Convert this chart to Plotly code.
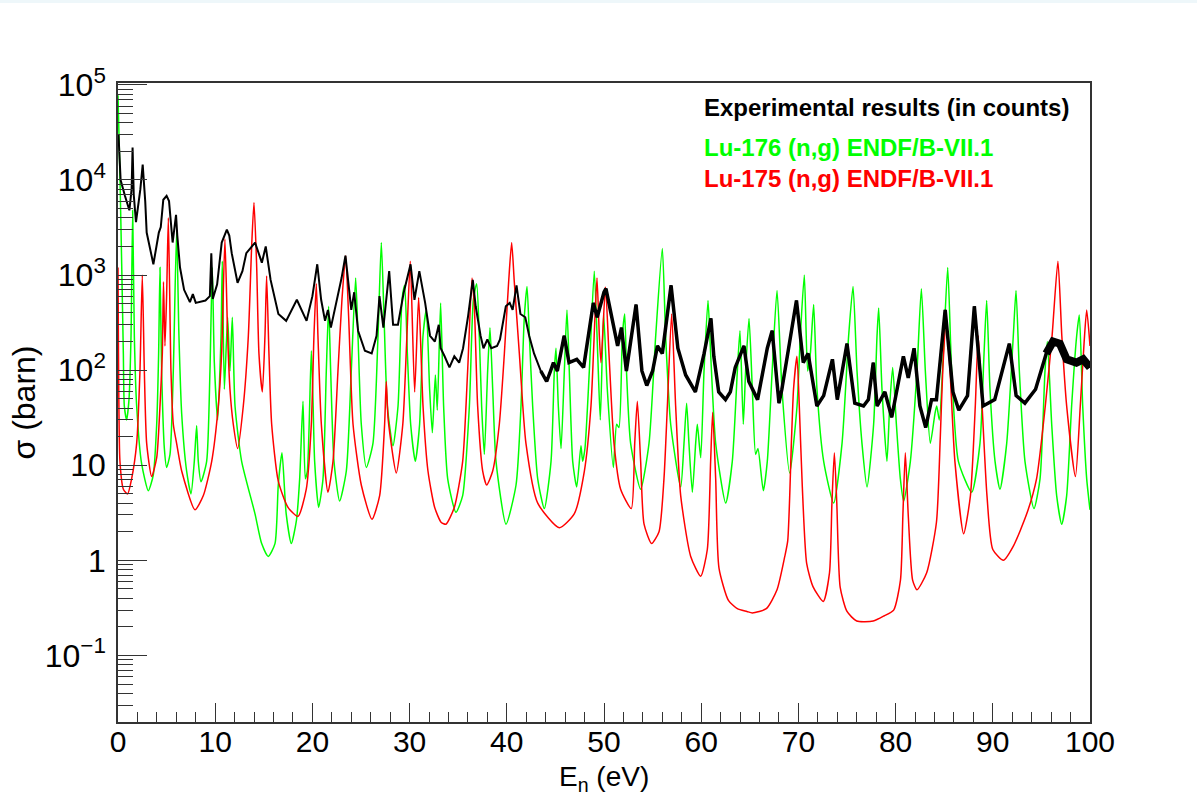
import plotly.graph_objects as go

# ---------------- data ----------------
black_E = [0.05, 0.27, 0.72, 1.17, 1.4, 1.5, 1.62, 1.85, 2.3, 2.54, 2.8, 2.95, 3.64, 4.2, 4.4, 4.66, 5.0, 5.25, 5.62, 5.97,
           6.1, 6.38, 6.8, 7.4, 7.7, 8.0, 9.0, 9.45, 9.6, 9.75, 10.2, 10.67, 11.2, 11.45, 11.7, 12.3, 12.8, 13.2, 14.1, 14.8,
           15.2, 15.7, 16.5, 17.3, 18.4, 19.4, 20.0, 20.5, 20.9, 21.3, 21.6, 21.9, 23.0, 23.4, 24.0, 24.3, 24.7, 25.4, 26.1, 26.6,
           26.9, 27.3, 27.9, 28.3, 28.8, 29.4, 30.1, 30.5, 31.0, 31.6, 32.1, 32.6, 33.0, 33.2, 33.6, 34.1, 34.6, 35.1, 35.5, 36.0,
           36.5, 36.8, 37.3, 37.6, 38.0, 38.4, 39.0, 39.3, 39.9, 40.3, 40.6, 41.0, 41.4, 41.9, 42.3, 42.8, 43.5, 44.1, 44.5, 44.8,
           45.2, 45.9, 46.4, 47.2, 47.9, 48.5, 48.9, 49.3, 50.0, 50.2, 51.0, 51.4, 51.8, 52.3, 53.3, 53.9, 54.4, 55.0, 55.5, 56.0,
           56.9, 57.6, 58.4, 59.4, 60.3, 61.0, 61.3, 61.8, 62.5, 63.0, 63.5, 64.4, 64.9, 65.8, 66.8, 67.3, 68.0, 68.3, 69.8, 70.5,
           71.0, 71.9, 72.6, 73.5, 74.0, 75.0, 75.8, 76.7, 77.2, 77.7, 78.1, 78.9, 79.6, 80.8, 81.3, 81.9, 82.5, 83.1, 83.7, 84.2,
           85.1, 85.9, 86.5, 87.4, 88.1, 89.0, 90.2, 91.7, 92.4, 93.3, 94.4, 95.5, 96.2, 96.9, 97.6, 98.6, 99.3, 100.0]
black_sigma = [3.0e4, 1.0e4, 6.8e3, 4.8e3, 8.0e3, 2.2e4, 7.0e3, 3.6e3, 8.0e3, 1.45e4, 6.0e3, 2.8e3, 1.3e3, 2.8e3, 3.2e3, 6.2e3, 6.8e3, 6.0e3, 2.2e3, 4.3e3,
               2.6e3, 1.2e3, 700, 520, 630, 510, 540, 600, 1.7e3, 560, 800, 2.2e3, 3.0e3, 2.6e3, 1.7e3, 830, 1.1e3, 1.7e3, 2.2e3, 1.35e3,
               2.0e3, 890, 390, 330, 550, 330, 600, 1.3e3, 550, 330, 430, 280, 930, 1.6e3, 430, 660, 260, 160, 150, 230,
               600, 280, 1.1e3, 300, 300, 660, 1.3e3, 550, 1.1e3, 510, 230, 200, 300, 170, 140, 107, 140, 120, 170, 360,
               890, 470, 230, 170, 210, 170, 180, 210, 470, 510, 430, 780, 390, 360, 230, 150, 98, 76, 98, 120,
               98, 230, 120, 130, 107, 260, 510, 360, 660, 720, 280, 180, 280, 98, 490, 98, 69, 98, 180, 150,
               780, 170, 89, 59, 150, 350, 140, 59, 49, 59, 107, 180, 76, 49, 170, 260, 45, 63, 540, 120,
               150, 42, 54, 130, 49, 190, 45, 42, 49, 120, 42, 59, 32, 140, 83, 170, 42, 25, 49, 49,
               430, 59, 38, 54, 470, 42, 49, 190, 54, 45, 63, 150, 200, 190, 130, 120, 130, 107]

green_E = [0.0, 0.1, 0.2, 0.38, 0.55, 0.65, 0.89, 1.13, 1.34, 1.51, 1.68, 1.92, 2.43, 3.12, 3.63, 3.98, 4.18, 4.32, 4.49, 4.77,
           5.0, 5.35, 5.69, 6.03, 6.27, 6.55, 7.06, 7.51, 7.85, 8.09, 8.26, 8.54, 9.12, 9.46, 9.70, 9.91, 10.25, 10.6, 10.73, 10.94,
           11.28, 11.52, 11.76, 12.04, 12.72, 14.09, 14.78, 15.46, 16.15, 16.49, 16.87, 17.3, 17.83, 18.35, 18.69, 19.03, 19.27, 19.48, 19.89, 20.06,
           20.23, 20.64, 21.09, 21.43, 21.67, 21.88, 22.22, 22.8, 23.49, 24.0, 24.45, 24.69, 25.03, 25.55, 26.23, 26.75, 27.09, 27.37, 27.71, 28.29,
           28.81, 29.22, 29.49, 29.77, 30.11, 30.59, 31.03, 31.38, 31.72, 32.06, 32.34, 32.65, 32.85, 33.19, 33.5, 33.92, 34.77, 35.46, 36.15, 36.56,
           36.9, 37.17, 37.41, 37.69, 38.03, 38.27, 38.55, 38.89, 39.92, 40.95, 41.46, 41.8, 42.08, 42.32, 42.66, 43.18, 43.86, 44.55, 44.89, 45.06,
           45.3, 45.58, 45.92, 46.19, 46.43, 46.78, 47.19, 47.63, 47.8, 48.04, 48.49, 49.0, 49.35, 49.62, 49.96, 50.34, 50.96, 51.3, 51.54, 51.89,
           52.13, 52.33, 52.74, 53.77, 54.63, 55.32, 56.0, 56.34, 56.86, 57.89, 58.23, 58.5, 58.74, 59.09, 59.43, 59.6, 59.95, 60.29, 60.7, 60.97,
           61.49, 62.52, 63.2, 63.72, 63.99, 64.33, 64.57, 64.92, 65.26, 65.6, 65.84, 66.39, 66.8, 67.3, 67.8, 68.31, 69.1, 69.86, 70.2, 70.61,
           70.95, 71.23, 71.57, 71.91, 72.6, 73.63, 74.49, 75.17, 75.62, 76.03, 76.54, 77.06, 77.74, 78.09, 78.26, 78.6, 79.11, 79.39, 79.7, 80.08,
           80.49, 80.83, 81.52, 82.2, 82.65, 83.06, 83.57, 84.05, 84.23, 84.5, 84.91, 85.36, 85.77, 86.46, 87.83, 88.68, 89.1, 89.37, 89.71, 90.23,
           90.74, 91.43, 92.11, 92.39, 92.73, 93.31, 94.24, 94.86, 95.37, 95.61, 96.06, 96.57, 97.09, 97.6, 98.11, 98.63, 98.9, 99.25, 99.66, 100.0]
green_sigma = [7.8e4, 3.0e4, 1.1e4, 1.3e3, 150, 42, 30, 49, 230, 4.8e3, 230, 42, 10.4, 5.4, 7.9, 27, 150, 1.2e3, 98, 15,
               9.5, 13, 98, 2.9e3, 230, 35, 8.7, 5.0, 11, 26, 11, 6.7, 11, 98, 1.2e3, 120, 30, 230, 1.4e3, 63,
               360, 98, 360, 42, 11, 3.1, 1.5, 1.1, 1.5, 6.2, 13.5, 3.1, 1.5, 2.6, 7.2, 47, 7.2, 8.7, 160, 49,
               11, 3.6, 7.2, 98, 470, 98, 11, 4.2, 8.7, 98, 930, 230, 27, 9.5, 17, 230, 2.2e3, 360, 42, 16,
               42, 550, 780, 150, 27, 11, 27, 230, 430, 63, 22, 89, 38, 510, 42, 7.2, 3.2, 4.8, 42, 550,
               810, 230, 42, 13, 98, 280, 63, 11, 2.4, 6.2, 42, 360, 760, 230, 42, 7.2, 3.5, 11, 98, 170,
               42, 15, 98, 430, 98, 11, 5.9, 16, 11, 15, 98, 1.1e3, 150, 30, 390, 63, 9.5, 27, 25, 230,
               390, 89, 17, 5.6, 17, 230, 1.9e3, 230, 27, 5.9, 17, 45, 17, 5.2, 17, 27, 12, 98, 540, 150,
               17, 4.0, 11, 98, 260, 27, 98, 350, 63, 13, 15, 5.4, 11, 98, 690, 63, 8.3, 42, 230, 1.0e3,
               98, 150, 490, 63, 11, 4.0, 17, 230, 760, 98, 17, 5.9, 27, 230, 450, 63, 11, 42, 107, 27,
               7.2, 4.2, 11, 98, 720, 98, 17, 35, 42, 30, 150, 1.2e3, 98, 11, 5.2, 17, 150, 540, 63, 11,
               5.6, 17, 230, 690, 98, 11, 3.5, 7.2, 98, 200, 27, 4.8, 2.4, 4.8, 42, 230, 380, 42, 7.2, 3.4]

red_E = [0.0, 0.05, 0.2, 0.55, 0.99, 1.4, 1.92, 2.26, 2.5, 2.71, 2.95, 3.46, 3.98, 4.32, 4.56, 4.68, 4.83, 5.0, 5.18, 5.45,
         5.69, 6.03, 6.55, 7.92, 8.78, 9.64, 10.32, 10.66, 11.0, 11.28, 11.52, 11.86, 12.31, 12.89, 13.41, 13.75, 13.99, 14.26, 14.5, 14.85,
         15.12, 15.29, 15.53, 15.81, 16.49, 17.49, 18.52, 19.37, 19.89, 20.16, 20.4, 20.57, 20.92, 21.6, 22.12, 22.63, 23.04, 23.42, 23.73, 24.18,
         25.03, 26.13, 26.92, 27.43, 27.6, 27.8, 28.63, 29.3, 29.7, 30.07, 30.52, 30.93, 31.38, 31.89, 32.58, 33.26, 33.74, 34.6, 35.46, 35.97,
         36.42, 36.66, 37.0, 37.52, 37.93, 38.55, 39.23, 39.75, 40.19, 40.5, 40.77, 41.29, 41.97, 43.18, 45.4, 46.95, 47.98, 48.66, 49.07, 49.28,
         49.52, 49.69, 50.15, 50.51, 51.03, 51.71, 52.81, 53.16, 53.43, 53.77, 54.12, 54.9, 55.66, 56.17, 56.52, 56.96, 57.37, 57.89, 58.92, 59.95,
         60.63, 60.97, 61.18, 61.49, 61.83, 62.8, 63.72, 64.7, 65.26, 66.7, 67.8, 68.6, 68.9, 69.3, 69.5, 69.85, 70.1, 70.4, 70.85, 71.5,
         72.56, 73.2, 73.45, 73.7, 73.95, 74.3, 75.0, 76.0, 77.7, 78.8, 79.8, 80.5, 80.75, 81.0, 81.3, 81.75, 82.2, 83.2, 84.2, 84.6,
         84.85, 85.2, 85.6, 86.1, 87.0, 87.7, 88.2, 88.5, 88.9, 89.4, 90.0, 91.1, 92.1, 93.5, 94.5, 95.4, 96.1, 96.7, 97.1, 97.6,
         98.5, 99.0, 99.4, 99.66, 100.0]
red_sigma = [1.2e3, 150, 11, 5.6, 5.0, 7.2, 17, 98, 1.0e3, 98, 17, 7.6, 12, 42, 150, 850, 180, 600, 4.0e3, 98,
             27, 17, 8.7, 3.4, 4.8, 11, 42, 150, 2.4e3, 230, 63, 27, 15, 42, 230, 2.0e3, 5.8e3, 1.3e3, 150, 59,
             230, 980, 150, 27, 6.8, 3.6, 2.9, 5.6, 27, 230, 810, 230, 27, 5.2, 11, 98, 550, 1.6e3, 360, 27,
             6.2, 2.7, 4.8, 27, 76, 30, 8.3, 27, 200, 1.4e3, 59, 580, 42, 8.7, 3.6, 2.5, 2.4, 3.6, 11, 98,
             930, 470, 42, 8.7, 6.2, 8.7, 27, 150, 850, 2.2e3, 850, 150, 17, 4.0, 2.2, 3.1, 8.7, 42, 360, 930,
             230, 120, 750, 150, 17, 5.6, 3.5, 17, 47, 11, 2.4, 1.5, 2.0, 7.2, 42, 390, 42, 4.8, 1.1, 0.68,
             1.3, 11, 36, 7.2, 0.83, 0.38, 0.31, 0.29, 0.28, 0.31, 0.49, 1.1, 1.6, 20, 63, 140, 40, 6.0, 0.93, 0.53,
             0.37, 0.74, 4.0, 13.5, 4.0, 0.52, 0.29, 0.23, 0.23, 0.26, 0.30, 0.62, 3.0, 13.5, 3.0, 0.62, 0.49, 0.74, 2.5, 20,
             98, 360, 98, 11, 1.9, 4.8, 42, 230, 42, 4.8, 1.3, 1.0, 1.4, 3.1, 7.2, 42, 230, 1.4e3, 230, 42,
             7.6, 42, 200, 430, 180]

y_tickvals = [0.1, 1, 10, 100, 1e3, 1e4, 1e5]
y_ticktext = ["10<sup>\u22121</sup>", "1", "10", "10<sup>2</sup>", "10<sup>3</sup>", "10<sup>4</sup>", "10<sup>5</sup>"]
legend_lines = ["Experimental results (in counts)", "Lu-176 (n,g) ENDF/B-VII.1", "Lu-175 (n,g) ENDF/B-VII.1"]
legend_colors = ["#000000", "#00ff00", "#ff0000"]
x_title = "E<sub>n</sub> (eV)"

FONT = "Liberation Sans, Arial, Helvetica, sans-serif"
TICK_SIZE = 32
XTICK_SIZE = 30

fig = go.Figure()
fig.add_trace(go.Scatter(x=green_E, y=green_sigma, mode="lines",
                         line=dict(color="#00ff00", width=1.5, shape="spline", smoothing=0.6), name=legend_lines[1]))
fig.add_trace(go.Scatter(x=red_E, y=red_sigma, mode="lines",
                         line=dict(color="#ff0000", width=1.5, shape="spline", smoothing=0.6), name=legend_lines[2]))
fig.add_trace(go.Scatter(x=black_E, y=black_sigma, mode="lines", line=dict(color="#000000", width=2), name=legend_lines[0]))
# experimental band gets noisier (visually thicker) at higher energies
i_mid = next(i for i, e in enumerate(black_E) if e >= 43.5)
i_hi = next(i for i, e in enumerate(black_E) if e >= 95.5)
fig.add_trace(go.Scatter(x=black_E[i_mid:], y=black_sigma[i_mid:], mode="lines",
                         line=dict(color="#000000", width=3.5), hoverinfo="skip"))
fig.add_trace(go.Scatter(x=black_E[i_hi:], y=black_sigma[i_hi:], mode="lines",
                         line=dict(color="#000000", width=8), hoverinfo="skip"))

minor_y = [m * 10.0 ** d for d in range(-2, 5) for m in range(2, 10)]

fig.update_layout(
    width=1197, height=798,
    margin=dict(l=118, r=107, t=83, b=76, autoexpand=False),
    paper_bgcolor="white", plot_bgcolor="white",
    showlegend=False,
    font=dict(family=FONT, size=TICK_SIZE, color="black"),
    xaxis=dict(range=[0, 100], showline=True, linecolor="#333", linewidth=1.5, mirror=True, automargin=False,
               ticks="inside", ticklen=19, tickwidth=1, tickcolor="#333", tick0=0, dtick=10,
               minor=dict(ticks="inside", ticklen=10, dtick=2, tickcolor="#333", tickwidth=1),
               showgrid=False, zeroline=False, tickfont=dict(size=XTICK_SIZE), ticklabelstandoff=-8),
    yaxis=dict(type="log", range=[-1.70, 5.02], showline=True, linecolor="#333", linewidth=1.5, mirror=True, automargin=False,
               ticks="inside", ticklen=29, tickwidth=1, tickcolor="#333",
               tickmode="array", tickvals=y_tickvals, ticktext=y_ticktext,
               minor=dict(ticks="inside", ticklen=15, tickmode="array", tickvals=minor_y, tickcolor="#333", tickwidth=1),
               showgrid=False, zeroline=False, tickfont=dict(size=TICK_SIZE), ticklabelstandoff=4,
               title=dict(text="\u03c3 (barn)", font=dict(size=TICK_SIZE), standoff=0)),
    shapes=[dict(type="rect", xref="paper", yref="paper", x0=-0.2, x1=1.2, y0=1.1252, y1=1.13,
                 fillcolor="#eef7fa", line=dict(width=0), layer="below")],
)

# x-axis title, placed just below the tick labels as in the reference
fig.add_annotation(x=0.5, y=-0.1174, xref="paper", yref="paper", xanchor="center", yanchor="bottom",
                   text=x_title, showarrow=False, borderpad=0,
                   font=dict(family=FONT, size=28, color="black"))

legend_y = [0.9624, 0.8998, 0.8498]
for txt, col, yy in zip(legend_lines, legend_colors, legend_y):
    fig.add_annotation(x=0.6008, y=yy, xref="paper", yref="paper", xanchor="left", yanchor="middle",
                       text="<b>" + txt + "</b>", showarrow=False,
                       font=dict(family=FONT, size=24, color=col))

fig.write_html("out.html")
